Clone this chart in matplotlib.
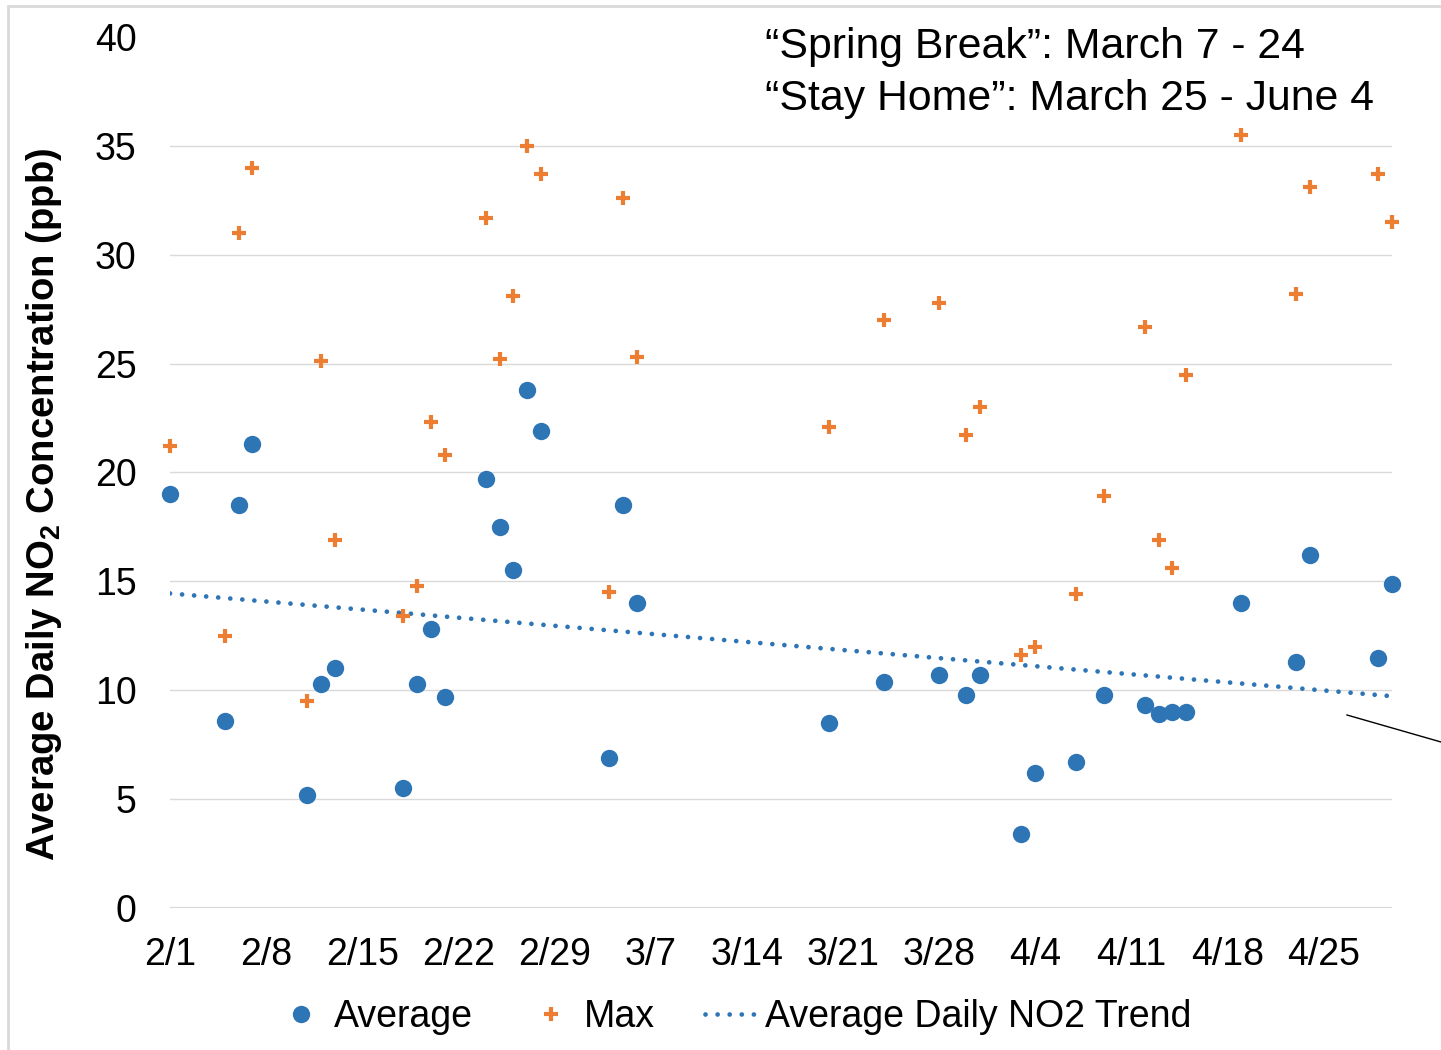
import numpy as np
import pandas as pd
import matplotlib
matplotlib.use("Agg")
import matplotlib.pyplot as plt
import matplotlib.dates as mdates
from matplotlib.patches import Rectangle
from matplotlib.lines import Line2D

plt.rcParams['font.family'] = ['Liberation Sans', 'DejaVu Sans']
plt.rcParams['mathtext.fontset'] = 'custom'
plt.rcParams['mathtext.rm'] = 'Liberation Sans'
plt.rcParams['mathtext.bf'] = 'Liberation Sans:bold'

# ---- data ----
dates = ["2/1", "2/5", "2/6", "2/7", "2/11", "2/12", "2/13", "2/18", "2/19", "2/20",
         "2/21", "2/24", "2/25", "2/26", "2/27", "2/28", "3/4", "3/5", "3/6", "3/20",
         "3/24", "3/28", "3/30", "3/31", "4/3", "4/4", "4/7", "4/9", "4/12", "4/13",
         "4/14", "4/15", "4/19", "4/23", "4/24", "4/29", "4/30"]
average = [19.0, 8.6, 18.5, 21.3, 5.2, 10.3, 11.0, 5.5, 10.3, 12.8,
           9.7, 19.7, 17.5, 15.5, 23.8, 21.9, 6.9, 18.5, 14.0, 8.5,
           10.4, 10.7, 9.8, 10.7, 3.4, 6.2, 6.7, 9.8, 9.3, 8.9,
           9.0, 9.0, 14.0, 11.3, 16.2, 11.5, 14.9]
maximum = [21.2, 12.5, 31.0, 34.0, 9.5, 25.1, 16.9, 13.4, 14.8, 22.3,
           20.8, 31.7, 25.2, 28.1, 35.0, 33.7, 14.5, 32.6, 25.3, 22.1,
           27.0, 27.8, 21.7, 23.0, 11.6, 12.0, 14.4, 18.9, 26.7, 16.9,
           15.6, 24.5, 35.5, 28.2, 33.1, 33.7, 31.5]
tick_labels = ["2/1", "2/8", "2/15", "2/22", "2/29", "3/7", "3/14", "3/21",
               "3/28", "4/4", "4/11", "4/18", "4/25"]
y_ticks = [0, 5, 10, 15, 20, 25, 30, 35, 40]
note_lines = ["\u201cSpring Break\u201d: March 7 - 24",
              "\u201cStay Home\u201d: March 25 - June 4"]

BLUE = "#2E75B6"
ORANGE = "#ED7D31"
GRID = "#D9D9D9"

x = pd.to_datetime([d + "/2020" for d in dates], format="%m/%d/%Y")
xticks = pd.to_datetime([t + "/2020" for t in tick_labels], format="%m/%d/%Y")
xnum = mdates.date2num(x)

fig = plt.figure(figsize=(14.41, 10.5), dpi=100)
W, H = 1441, 1050
ax = fig.add_axes([170 / W, 1 - 908 / H, (1392 - 170) / W, (908 - 37) / H])

# grid lines (no line at 40)
for yv in y_ticks[1:-1]:
    ax.axhline(yv, color=GRID, lw=1.0, zorder=0)
ax.axhline(0, color=GRID, lw=1.6, zorder=0)

# trend (linear fit of average)
coef = np.polyfit(xnum, average, 1)
tx = np.array([xnum.min(), xnum.max()])
ax.plot(tx, np.polyval(coef, tx), color=BLUE, lw=3.4,
        linestyle=(0, (0.01, 2.55)), dash_capstyle='round',
        label="Average Daily NO2 Trend", zorder=2)

ax.plot(xnum, average, linestyle='none', marker='o', markersize=12.5,
        color=BLUE, markeredgewidth=0, label="Average", zorder=3, clip_on=False)
ax.plot(xnum, maximum, linestyle='none', marker='+', markersize=10,
        markeredgewidth=3.0, color=ORANGE, label="Max", zorder=3, clip_on=False)

ax.set_xlim(mdates.date2num(pd.Timestamp("2020-02-01")),
            mdates.date2num(pd.Timestamp("2020-04-30")))
ax.set_ylim(0, 40)
ax.set_xticks(mdates.date2num(xticks))
ax.set_xticklabels(tick_labels)
ax.set_yticks(y_ticks)
ax.set_yticklabels([str(v) for v in y_ticks])
ax.tick_params(axis='both', length=0, labelsize=27, colors='black')
ax.tick_params(axis='x', pad=21)
ax.tick_params(axis='y', pad=24)
for s in ax.spines.values():
    s.set_visible(False)

ax.set_ylabel(r"Average Daily NO$_{\mathbf{2}}$ Concentration (ppb)",
              fontsize=27.5, fontweight='bold')
ax.yaxis.set_label_coords((64 - 170) / 1222, (908 - 504) / 871)

# legend
handles, labels = ax.get_legend_handles_labels()
order = [1, 2, 0]
leg = fig.legend([handles[i] for i in order], [labels[i] for i in order],
                 loc='center', bbox_to_anchor=(733 / W, 1 - 1017 / H),
                 ncol=3, frameon=False, fontsize=27, handlelength=1.45,
                 handletextpad=0.15, columnspacing=1.35, borderpad=0)

# notes top right
fig.text(765 / W, 1 - 58 / H, note_lines[0], fontsize=30.8, va='baseline', ha='left')
fig.text(765 / W, 1 - 110 / H, note_lines[1], fontsize=30.8, va='baseline', ha='left')

# thin black annotation line going off the right edge
fig.add_artist(Line2D([1347 / W, 1.0], [1 - 715 / H, 1 - 742 / H],
                      color='black', lw=1.0, transform=fig.transFigure))

# light chart border
fig.add_artist(Rectangle((8.0 / W, -0.05), 1.2, 1 - 6 / H + 0.05, fill=False,
                         edgecolor=GRID, lw=2.0, transform=fig.transFigure))

fig.savefig("out.png", dpi=100, facecolor='white')
